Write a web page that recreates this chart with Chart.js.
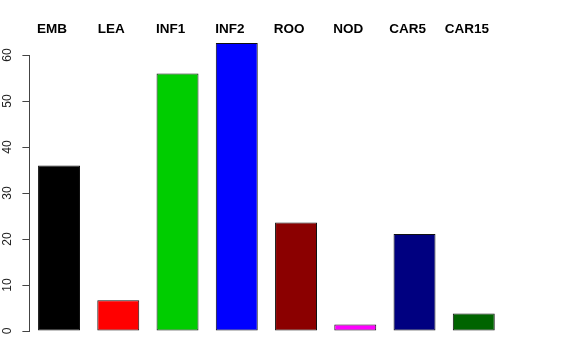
<!DOCTYPE html>
<html lang="en">
<head>
  <meta charset="UTF-8" />
  <title>Bar heights by group</title>
  <script src="https://cdn.jsdelivr.net/npm/chart.js"></script>
  <style>
    body {
      margin: 0;
      background: #fff;
    }
    #wrap {
      width: 576px;
      height: 360px;
    }
  </style>
</head>
<body>
  <div id="wrap"><canvas id="barChart" width="576" height="360"></canvas></div>

  <script>
    const groups = ['EMB', 'LEA', 'INF1', 'INF2', 'ROO', 'NOD', 'CAR5', 'CAR15'];
    const heights = [36.0, 6.7, 56.0, 62.6, 23.6, 1.4, 21.1, 3.8];
    const barColors = ['#000000', '#ff0000', '#00cd00', '#0000ff', '#8b0000', '#ff00ff', '#000080', '#006400'];
    const yTicks = [0, 10, 20, 30, 40, 50, 60];

    const ctx = document.getElementById('barChart').getContext('2d');
    const chart = new Chart(ctx, {
      type: 'bar',
      data: {
        labels: groups,
        datasets: [{
          data: heights,
          backgroundColor: barColors,
          borderColor: '#111',
          borderWidth: 1,
          borderSkipped: false,
          categoryPercentage: 1,
          barPercentage: 0.708,
          clip: false
        }]
      },
      options: {
        responsive: false,
        animation: false,
        layout: {
          padding: { top: 0, right: 72.6, bottom: 29, left: 0 }
        },
        plugins: {
          legend: { display: false },
          tooltip: { enabled: false }
        },
        scales: {
          x: {
            position: 'top',
            grid: { display: false, drawTicks: false },
            border: { display: false },
            ticks: {
              color: '#000',
              font: { family: 'Liberation Sans', size: 13.5, weight: 'bold' },
              padding: 18,
              labelOffset: -7,
              maxRotation: 0,
              autoSkip: false
            },
            afterFit: (scale) => { scale.height = 55; }
          },
          y: {
            min: 0,
            max: 60,
            afterBuildTicks: (scale) => {
              scale.ticks = yTicks.map(v => ({ value: v }));
            },
            grid: {
              drawOnChartArea: false,
              drawTicks: true,
              tickLength: 7,
              tickColor: '#444',
              tickWidth: 1,
              color: '#444'
            },
            border: { display: true, color: '#444', width: 1 },
            ticks: {
              color: '#222',
              font: { family: 'Liberation Sans', size: 12 },
              minRotation: 90,
              maxRotation: 90,
              crossAlign: 'center',
              padding: 7.7
            },
            afterFit: (scale) => { scale.width = 29.4; }
          }
        }
      }
    });
  </script>
</body>
</html>
